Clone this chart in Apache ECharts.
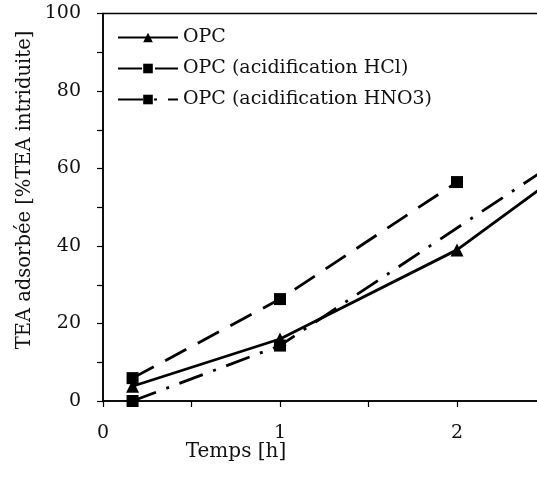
<!DOCTYPE html>
<html>
<head>
<meta charset="utf-8">
<script src="https://cdn.jsdelivr.net/npm/echarts@6/dist/echarts.min.js"></script>
<style>html,body{margin:0;padding:0;background:#fff}#c{width:537px;height:477px}</style>
</head>
<body>
<div id="c"></div>
<script>
// Data
const seriesNames = ['OPC', 'OPC (acidification HCl)', 'OPC (acidification HNO3)'];
const xOPC = [0.167, 1, 2, 3];
const yOPC = [3.8, 16, 39, 72.5];
const xHCl = [0.167, 1, 2];
const yHCl = [5.9, 26.3, 56.5];
const xHNO3 = [0.167, 1, 3];
const yHNO3 = [0, 14.3, 75];
const xTickLabels = [0, 1, 2];
const yTickLabels = [0, 20, 40, 60, 80, 100];

const FONT = 'DejaVu Serif';
const pair = (xs, ys) => xs.map((x, i) => [x, ys[i]]);

const chart = echarts.init(document.getElementById('c'), null, {renderer: 'canvas'});
const lineW = 2.8;
chart.setOption({
  animation: false,
  backgroundColor: '#fff',
  grid: {left: 103, top: 13.5, width: 442.5, height: 387.5, show: true, borderColor: '#000', borderWidth: 1.5,
         containLabel: false, outerBoundsMode: 'none'},
  legend: {
    orient: 'vertical', left: 112, top: 23, itemWidth: 60, itemHeight: 12, itemGap: 12,
    textStyle: {fontFamily: FONT, fontSize: 19, color: '#111'},
    data: seriesNames
  },
  xAxis: {
    type: 'value', min: 0, max: 2.5, interval: 0.5,
    axisLine: {show: true, lineStyle: {color: '#000', width: 1.5}},
    axisTick: {show: true, inside: false, length: 6, lineStyle: {color: '#000', width: 1.2}},
    splitLine: {show: false},
    axisLabel: {
      margin: 23, fontFamily: FONT, fontSize: 19, color: '#111',
      formatter: v => xTickLabels.includes(v) ? String(v) : ''
    }
  },
  yAxis: {
    type: 'value', min: 0, max: 100, interval: 10,
    axisLine: {show: true, lineStyle: {color: '#000', width: 1.5}},
    axisTick: {show: true, inside: false, length: 6, lineStyle: {color: '#000', width: 1.2}},
    splitLine: {show: false},
    axisLabel: {
      margin: 22, fontFamily: FONT, fontSize: 19, color: '#111',
      formatter: v => yTickLabels.includes(v) ? String(v) : ''
    }
  },
  graphic: [
    {type: 'text', x: 25, y: 190, rotation: Math.PI / 2,
     style: {text: 'TEA adsorbée [%TEA intriduite]', font: '19.5px "DejaVu Serif"', fill: '#111', align: 'center', verticalAlign: 'middle'}},
    {type: 'text', x: 236, y: 452,
     style: {text: 'Temps [h]', font: '20px "DejaVu Serif"', fill: '#111', align: 'center', verticalAlign: 'middle'}}
  ],
  series: [
    {name: seriesNames[0], type: 'line', data: pair(xOPC, yOPC), symbol: 'triangle', symbolSize: 13,
     itemStyle: {color: '#000'}, lineStyle: {color: '#000', width: lineW, type: 'solid'}, z: 3},
    {name: seriesNames[1], type: 'line', data: pair(xHCl, yHCl), symbol: 'rect', symbolSize: 12,
     itemStyle: {color: '#000'}, lineStyle: {color: '#000', width: lineW, type: [24, 13]}, z: 2},
    {name: seriesNames[2], type: 'line', data: pair(xHNO3, yHNO3), symbol: 'rect', symbolSize: 12,
     itemStyle: {color: '#000'}, lineStyle: {color: '#000', width: lineW, type: [25, 11, 3, 11]}, z: 2}
  ]
});
</script>
</body>
</html>
